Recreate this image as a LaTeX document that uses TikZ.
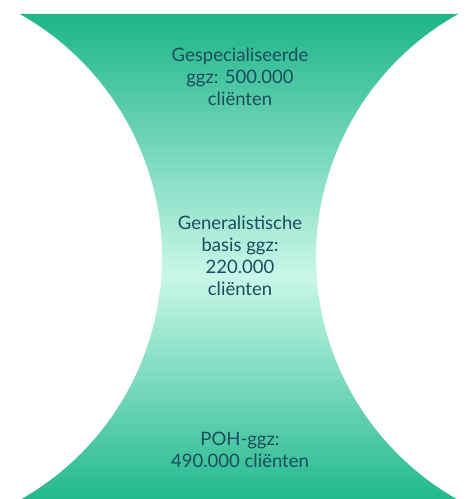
\documentclass[tikz,border=0pt]{standalone}
\usepackage{fontspec}
\setmainfont{Lato}
\definecolor{gtop}{HTML}{1DB589}
\definecolor{glight}{HTML}{C9F7E9}
\definecolor{gbot}{HTML}{22B98C}
\definecolor{txt}{HTML}{1B4D5C}
\pgfdeclareverticalshading{hourglass}{100bp}{color(0bp)=(gbot); color(25bp)=(gbot); color(48bp)=(glight); color(75bp)=(gtop); color(100bp)=(gtop)}
\tikzset{
  lbl/.style={align=center, text=txt, font=\fontsize{18.5}{22}\selectfont, inner sep=0pt}
}
\begin{document}
\begin{tikzpicture}[x=1pt,y=1pt]
\useasboundingbox (0,0) rectangle (466,499);
\shade[shading=hourglass] (19.8,485) -- (458.2,485)
  arc[start angle=119.33, end angle=240.27, radius=278.7]
  -- (21.5,0)
  arc[start angle=-60.27, end angle=60.67, radius=278.7] -- cycle;
\node[lbl] (top) at (240,422) {Gespecialiseerde\\ggz: 500.000\\cliënten};
\node[lbl] (mid) at (240,243) {Generalistische\\basis ggz:\\220.000\\cliënten};
\node[lbl] (bot) at (240,49) {POH-ggz:\\490.000 cliënten};
\end{tikzpicture}
\end{document}
